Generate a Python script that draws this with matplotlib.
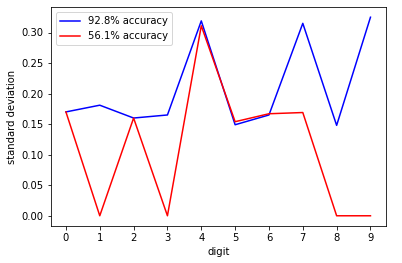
import matplotlib
matplotlib.use("Agg")
import matplotlib.pyplot as plt

digits = list(range(10))
std_928 = [0.170, 0.181, 0.160, 0.165, 0.319, 0.149, 0.165, 0.315, 0.148, 0.325]
std_561 = [0.170, 0.0, 0.160, 0.0, 0.311, 0.154, 0.167, 0.169, 0.0, 0.0]

W, H = 402, 263
fig = plt.figure(figsize=(W / 72, H / 72), dpi=72)
ax = fig.add_axes([50.7 / W, 1 - 225.7 / H, (385.7 - 50.7) / W, (225.7 - 7.3) / H])

ax.plot(digits, std_928, color="blue", label="92.8% accuracy")
ax.plot(digits, std_561, color="red", label="56.1% accuracy")
ax.set_xticks(digits)
ax.set_xlabel("digit")
ax.set_ylabel("standard deviation")
ax.legend(loc="upper left")

fig.savefig("out.png", dpi=72)
